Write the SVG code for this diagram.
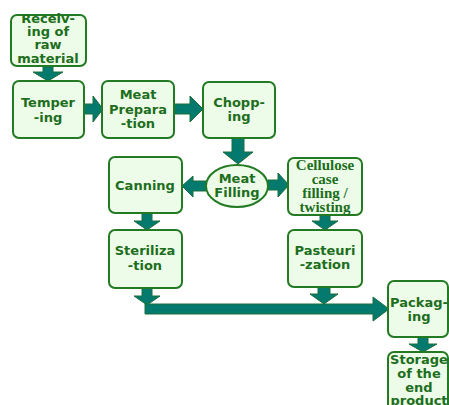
<svg xmlns="http://www.w3.org/2000/svg" width="449" height="405" viewBox="0 0 449 405">
<defs>
<style>
.box{fill:#edfce8;stroke:#237a23;stroke-width:2}
.t{font-family:"DejaVu Sans",Verdana,sans-serif;font-weight:bold;font-size:13px;fill:#1d6e1d;text-anchor:middle}
.s{font-family:"Liberation Serif","Times New Roman",serif;font-weight:bold;font-size:15px;fill:#1d6e1d;text-anchor:middle}
.arr{fill:#037a6d;stroke:#1d6e3a;stroke-width:1}
</style>
</defs>
<rect width="449" height="405" fill="#ffffff"/>
<g id="connectors">
<polygon class="arr" points="43,66 53,66 53,72 63,72 48,81 33,72 43,72"/>
<polygon class="arr" points="84,104 93,104 93,96 103,109 93,122 93,114 84,114"/>
<polygon class="arr" points="174,104 190,104 190,96 203,109 190,122 190,114 174,114"/>
<polygon class="arr" points="232,138 244,138 244,152 253,152 238,164 223,152 232,152"/>
<polygon class="arr" points="268,180 278,180 278,173 289,185 278,197 278,190 268,190"/>
<polygon class="arr" points="206,181 193,181 193,176 182,186 193,197 193,191 206,191"/>
<polygon class="arr" points="142,213 152,213 152,221 160,221 147,230 134,221 142,221"/>
<polygon class="arr" points="320,215 330,215 330,221 338,221 325,230 312,221 320,221"/>
<polygon class="arr" points="142,288 152,288 152,296 160,296 147,305 134,296 142,296"/>
<polygon class="arr" points="318,287 330,287 330,294 338,294 324,304 310,294 318,294"/>
<polygon class="arr" points="145,304 373,304 373,297 389,309 373,321 373,314 145,314"/>
<polygon class="arr" points="418,337 428,337 428,344 437,344 423,352 409,344 418,344"/>
</g>
<g id="receiving">
<rect class="box" x="11" y="15" width="75" height="51" rx="6"/>
<text class="t" x="48" y="23" font-size="10">Receiv-</text>
<text class="t" x="48" y="35.5" font-size="11">ing of</text>
<text class="t" x="48" y="48.5" font-size="12">raw</text>
<text class="t" x="48" y="62.5" font-size="12.5">material</text>
</g>
<g id="tempering">
<rect class="box" x="13" y="81" width="71" height="57" rx="6"/>
<text class="t" x="48" y="107">Temper</text>
<text class="t" x="48" y="122">-ing</text>
</g>
<g id="meat-preparation">
<rect class="box" x="102" y="81" width="72" height="57" rx="6"/>
<text class="t" x="138" y="99">Meat</text>
<text class="t" x="138" y="114">Prepara</text>
<text class="t" x="138" y="128">-tion</text>
</g>
<g id="chopping">
<rect class="box" x="203" y="82" width="72" height="56" rx="6"/>
<text class="t" x="239" y="107">Chopp-</text>
<text class="t" x="239" y="121">ing</text>
</g>
<g id="meat-filling">
<ellipse class="box" cx="237" cy="186" rx="31" ry="21"/>
<text class="t" x="237" y="183">Meat</text>
<text class="t" x="237" y="197">Filling</text>
</g>
<g id="cellulose">
<rect class="box" x="288" y="158" width="74" height="57" rx="6"/>
<text class="s" x="325" y="170">Cellulose</text>
<text class="s" x="325" y="184">case</text>
<text class="s" x="325" y="198">filling /</text>
<text class="s" x="325" y="212">twisting</text>
</g>
<g id="canning">
<rect class="box" x="109" y="157" width="73" height="56" rx="6"/>
<text class="t" x="145" y="190">Canning</text>
</g>
<g id="sterilization">
<rect class="box" x="109" y="230" width="73" height="58" rx="6"/>
<text class="t" x="145" y="255">Steriliza</text>
<text class="t" x="145" y="270">-tion</text>
</g>
<g id="pasteurization">
<rect class="box" x="288" y="230" width="74" height="57" rx="6"/>
<text class="t" x="325" y="255">Pasteuri</text>
<text class="t" x="325" y="269">-zation</text>
</g>
<g id="packaging">
<rect class="box" x="388" y="281" width="60" height="56" rx="6"/>
<text class="t" x="419" y="307">Packag-</text>
<text class="t" x="419" y="321">ing</text>
</g>
<g id="storage">
<rect class="box" x="388" y="352" width="60" height="60" rx="6"/>
<text class="t" x="419" y="364">Storage</text>
<text class="t" x="419" y="378">of the</text>
<text class="t" x="419" y="392">end</text>
<text class="t" x="419" y="405">product</text>
</g>
</svg>
